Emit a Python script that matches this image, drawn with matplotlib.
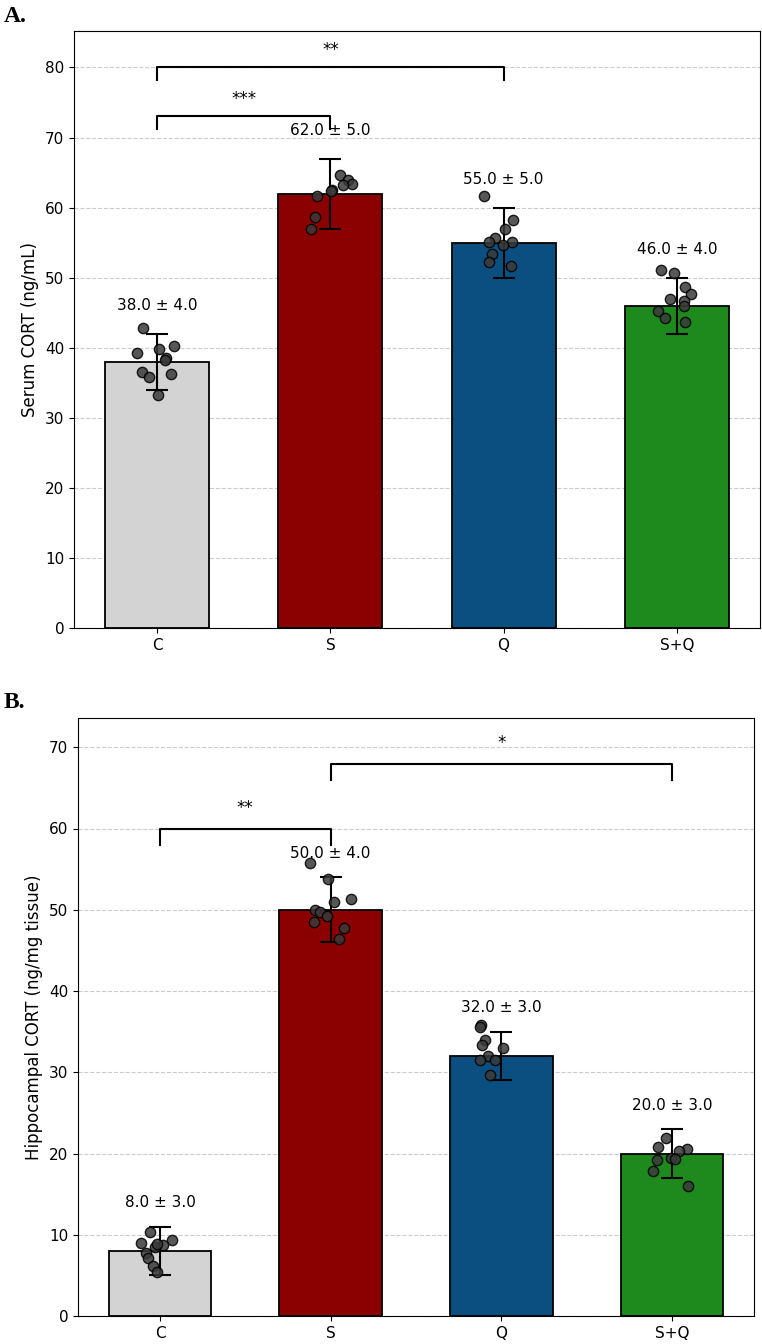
import numpy as np
import matplotlib
matplotlib.use("Agg")
import matplotlib.pyplot as plt

plt.rcParams.update({"font.family": "DejaVu Sans", "font.size": 11})

groups = ["C", "S", "Q", "S+Q"]
colors = ["#d3d3d3", "#8b0000", "#0b4f80", "#1e8a1e"]

# panel A: serum CORT
serum_mean = [38.0, 62.0, 55.0, 46.0]
serum_sd = [4.0, 5.0, 5.0, 4.0]
serum_pts = [
    [42.8, 39.3, 39.8, 40.3, 38.5, 38.3, 36.6, 35.8, 36.2, 33.2],
    [64.6, 64.0, 63.3, 63.2, 62.5, 62.3, 61.6, 58.6, 57.0],
    [61.6, 58.2, 57.0, 55.7, 55.1, 55.1, 54.6, 53.4, 52.2, 51.6],
    [51.1, 50.7, 48.6, 47.7, 47.0, 46.6, 45.9, 45.2, 44.3, 43.7],
]
serum_jit = [
    [-0.083, -0.117, 0.013, 0.098, 0.052, 0.046, -0.085, -0.048, 0.081, 0.004],
    [0.058, 0.100, 0.125, 0.073, 0.010, 0.002, -0.077, -0.091, -0.112],
    [-0.114, 0.052, 0.008, -0.052, -0.083, 0.046, -0.006, -0.069, -0.083, 0.045],
    [-0.092, -0.016, 0.048, 0.081, -0.040, 0.039, 0.042, -0.108, -0.068, 0.046],
]
serum_sig = [(0, 1, 73.0, "***"), (0, 2, 80.0, "**")]

# panel B: hippocampal CORT
hip_mean = [8.0, 50.0, 32.0, 20.0]
hip_sd = [3.0, 4.0, 3.0, 3.0]
hip_pts = [
    [10.4, 9.3, 9.0, 8.8, 8.5, 7.8, 7.1, 6.2, 5.4, 8.9],
    [55.8, 53.8, 50.9, 51.3, 50.0, 49.7, 49.2, 48.5, 47.8, 46.4],
    [35.8, 35.6, 34.0, 33.3, 33.0, 32.0, 31.5, 31.5, 29.7],
    [21.9, 20.8, 20.6, 20.3, 19.4, 19.3, 19.2, 17.9, 16.0],
]
hip_jit = [
    [-0.06, 0.07, -0.11, 0.02, -0.03, -0.08, -0.07, -0.04, -0.02, -0.02],
    [-0.119, -0.013, 0.018, 0.121, -0.094, -0.060, -0.022, -0.100, 0.078, 0.047],
    [-0.117, -0.123, -0.094, -0.113, 0.010, -0.078, -0.123, -0.035, -0.069],
    [-0.037, -0.084, 0.088, 0.043, -0.006, 0.018, -0.090, -0.113, 0.094],
]
hip_sig = [(0, 1, 60.0, "**"), (1, 3, 68.0, "*")]


def panel(ax, mean, sd, pts, jit, sig, ylabel, ymax, off, leg):
    x = np.arange(len(groups))
    ax.bar(x, mean, width=0.6, color=colors, edgecolor="black", lw=1.3, zorder=2)
    ax.errorbar(x, mean, yerr=sd, fmt="none", ecolor="black", elinewidth=1.5,
                capsize=8, capthick=1.5, zorder=3)
    for i in range(len(groups)):
        ax.scatter(x[i] + np.array(jit[i]), pts[i], s=55, color="#3a3a3a", alpha=0.85,
                   edgecolor="black", lw=1.0, zorder=4)
        ax.text(x[i], mean[i] + sd[i] + off, "%.1f ± %.1f" % (mean[i], sd[i]),
                ha="center", va="bottom", fontsize=11)
    for a, b, y, s in sig:
        ax.plot([a, a, b, b], [y - leg, y, y, y - leg], color="black", lw=1.5)
        ax.text((a + b) / 2, y + leg * 0.7, s, ha="center", va="bottom", fontsize=12)
    ax.set_xticks(x)
    ax.set_xticklabels(groups, fontsize=11.5)
    ax.set_ylabel(ylabel, fontsize=12)
    ax.set_ylim(0, ymax)
    ax.set_xlim(-0.48, 3.48)
    ax.yaxis.grid(True, ls="--", color="#cccccc", lw=0.8, zorder=0)
    ax.set_axisbelow(True)
    ax.tick_params(labelsize=11)


fig = plt.figure(figsize=(7.62, 13.44), dpi=100)
W, H = 762.0, 1344.0
axA = fig.add_axes([74 / W, 1 - 628 / H, 686 / W, 597 / H])
axB = fig.add_axes([78 / W, 1 - 1316 / H, 676 / W, 598 / H])

panel(axA, serum_mean, serum_sd, serum_pts, serum_jit, serum_sig,
      "Serum CORT (ng/mL)", 85.2, 3.0, 1.8)
panel(axB, hip_mean, hip_sd, hip_pts, hip_jit, hip_sig,
      "Hippocampal CORT (ng/mg tissue)", 73.6, 2.0, 2.0)

fig.text(4 / W, 1 - 16 / H, "A.", fontsize=17, fontweight="bold",
         family="Liberation Serif", va="center", ha="left")
fig.text(4 / W, 1 - 702 / H, "B.", fontsize=17, fontweight="bold",
         family="Liberation Serif", va="center", ha="left")

fig.savefig("out.png", dpi=100)
